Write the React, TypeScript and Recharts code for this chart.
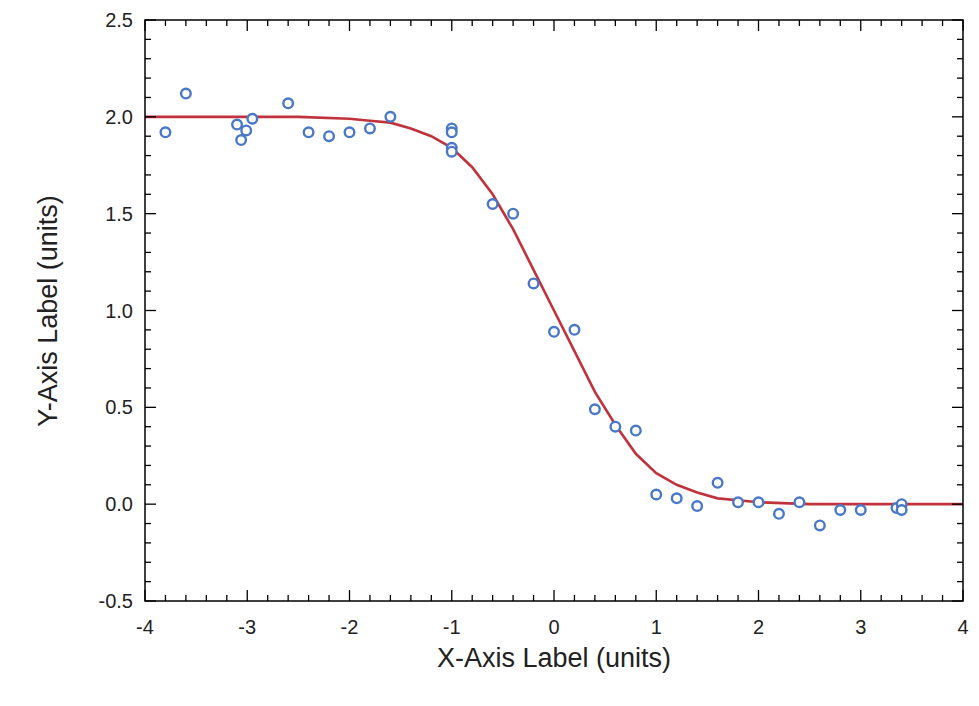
import React from 'react';
import { ScatterChart, Scatter, XAxis, YAxis } from 'recharts';

const pointX = [-3.8, -3.6, -3.1, -3.06, -3.01, -2.95, -2.6, -2.4, -2.2, -2.0, -1.8, -1.6, -1.0, -1.0, -1.0, -1.0, -0.6, -0.4, -0.2, 0.0, 0.2, 0.4, 0.6, 0.8, 1.0, 1.2, 1.4, 1.6, 1.8, 2.0, 2.2, 2.4, 2.6, 2.8, 3.0, 3.35, 3.4, 3.4];
const pointY = [1.92, 2.12, 1.96, 1.88, 1.93, 1.99, 2.07, 1.92, 1.9, 1.92, 1.94, 2.0, 1.94, 1.92, 1.84, 1.82, 1.55, 1.5, 1.14, 0.89, 0.9, 0.49, 0.4, 0.38, 0.05, 0.03, -0.01, 0.11, 0.01, 0.01, -0.05, 0.01, -0.11, -0.03, -0.03, -0.02, 0.0, -0.03];

const fitX = [-4, -2.5, -2, -1.8, -1.6, -1.4, -1.2, -1.0, -0.8, -0.6, -0.4, -0.2, 0, 0.2, 0.4, 0.6, 0.8, 1.0, 1.2, 1.4, 1.6, 1.8, 2.0, 2.5, 4];
const fitY = [2.0, 2.0, 1.99, 1.98, 1.97, 1.94, 1.9, 1.84, 1.74, 1.6, 1.42, 1.21, 1.0, 0.79, 0.58, 0.41, 0.26, 0.16, 0.1, 0.06, 0.03, 0.02, 0.01, 0.0, 0.0];

const xMajor = [-4, -3, -2, -1, 0, 1, 2, 3, 4];
const xMinor = [-3.8, -3.6, -3.4, -3.2, -2.8, -2.6, -2.4, -2.2, -1.8, -1.6, -1.4, -1.2, -0.8, -0.6, -0.4, -0.2, 0.2, 0.4, 0.6, 0.8, 1.2, 1.4, 1.6, 1.8, 2.2, 2.4, 2.6, 2.8, 3.2, 3.4, 3.6, 3.8];
const yMajor = [-0.5, 0, 0.5, 1.0, 1.5, 2.0, 2.5];
const yMinor = [-0.4, -0.3, -0.2, -0.1, 0.1, 0.2, 0.3, 0.4, 0.6, 0.7, 0.8, 0.9, 1.1, 1.2, 1.3, 1.4, 1.6, 1.7, 1.8, 1.9, 2.1, 2.2, 2.3, 2.4];

const points = pointX.map((x, i) => ({ x, y: pointY[i] }));
const fit = fitX.map((x, i) => ({ x, y: fitY[i] }));

const W = 971;
const H = 698;
const TOP = 12;
const BOTTOM = 593;
const LEFT = 137;
const RIGHT = 955;
// each side carries two 1px axes
const M = { top: TOP - 2, right: W - RIGHT - 2, bottom: H - BOTTOM - 2, left: LEFT - 2 };
const FONT = '"Liberation Sans", Arial, sans-serif';

const XTick = ({ x, payload, major, side }: any) => {
  const len = major ? 11 : 6;
  const y0 = side === 'top' ? TOP : BOTTOM;
  const y1 = side === 'top' ? TOP + len : BOTTOM - len;
  return (
    <g>
      <line x1={x} x2={x} y1={y0} y2={y1} stroke="#000" strokeWidth={1.3} />
      {major && side === 'bottom' && (
        <text x={x} y={BOTTOM + 33} textAnchor="middle" fontSize={20} fontFamily={FONT} fill="#222">
          {payload.value}
        </text>
      )}
    </g>
  );
};

const YTick = ({ y, payload, major, side }: any) => {
  const len = major ? 11 : 6;
  const x0 = side === 'right' ? RIGHT : LEFT;
  const x1 = side === 'right' ? RIGHT - len : LEFT + len;
  return (
    <g>
      <line x1={x0} x2={x1} y1={y} y2={y} stroke="#000" strokeWidth={1.3} />
      {major && side === 'left' && (
        <text x={LEFT - 12} y={y + 7} textAnchor="end" fontSize={20} fontFamily={FONT} fill="#222">
          {payload.value.toFixed(1)}
        </text>
      )}
    </g>
  );
};

const Dot = ({ cx, cy }: any) => (
  <circle cx={cx} cy={cy} r={4.8} fill="#fff" stroke="#4a78c8" strokeWidth={2.4} />
);

const Frame = () => null;

export default function App() {
  const xs = { type: 'number' as const, dataKey: 'x', domain: [-4, 4], allowDataOverflow: true, height: 1, interval: 0 as const, tickLine: false };
  const ys = { type: 'number' as const, dataKey: 'y', domain: [-0.5, 2.5], allowDataOverflow: true, width: 1, interval: 0 as const, tickLine: false };
  return (
    <div style={{ position: 'relative', width: W, height: H }}>
      <ScatterChart width={W} height={H} margin={M}>
        <XAxis xAxisId="b" {...xs} ticks={xMajor} axisLine={false} tick={<XTick major side="bottom" />} />
        <XAxis xAxisId="bm" {...xs} ticks={xMinor} axisLine={false} tick={<XTick side="bottom" />} />
        <XAxis xAxisId="t" {...xs} orientation="top" ticks={xMajor} axisLine={false} tick={<XTick major side="top" />} />
        <XAxis xAxisId="tm" {...xs} orientation="top" ticks={xMinor} axisLine={false} tick={<XTick side="top" />} />
        <YAxis yAxisId="l" {...ys} ticks={yMajor} axisLine={false} tick={<YTick major side="left" />} />
        <YAxis yAxisId="lm" {...ys} ticks={yMinor} axisLine={false} tick={<YTick side="left" />} />
        <YAxis yAxisId="r" {...ys} orientation="right" ticks={yMajor} axisLine={false} tick={<YTick major side="right" />} />
        <YAxis yAxisId="rm" {...ys} orientation="right" ticks={yMinor} axisLine={false} tick={<YTick side="right" />} />
        <Scatter xAxisId="b" yAxisId="l" data={fit} line={{ stroke: '#c0323c', strokeWidth: 2.6 }} lineType="joint" shape={() => null} isAnimationActive={false} />
        <Scatter xAxisId="bm" yAxisId="lm" data={points} shape={<Dot />} isAnimationActive={false} />
        <Scatter xAxisId="t" yAxisId="r" data={[]} isAnimationActive={false} />
        <Scatter xAxisId="tm" yAxisId="rm" data={[]} isAnimationActive={false} />
      </ScatterChart>
      <svg width={W} height={H} style={{ position: 'absolute', left: 0, top: 0, pointerEvents: 'none' }}>
        <rect x={LEFT} y={TOP} width={RIGHT - LEFT} height={BOTTOM - TOP} fill="none" stroke="#000" strokeWidth={1.5} />
      </svg>
      <div style={{ position: 'absolute', left: LEFT, width: RIGHT - LEFT, top: BOTTOM + 42, textAlign: 'center', fontFamily: FONT, fontSize: 27, color: '#222' }}>
        X-Axis Label (units)
      </div>
      <div style={{ position: 'absolute', left: 40, top: (TOP + BOTTOM) / 2, transform: 'translate(-50%, -50%) rotate(-90deg)', whiteSpace: 'nowrap', fontFamily: FONT, fontSize: 27, color: '#222' }}>
        Y-Axis Label (units)
      </div>
    </div>
  );
}
